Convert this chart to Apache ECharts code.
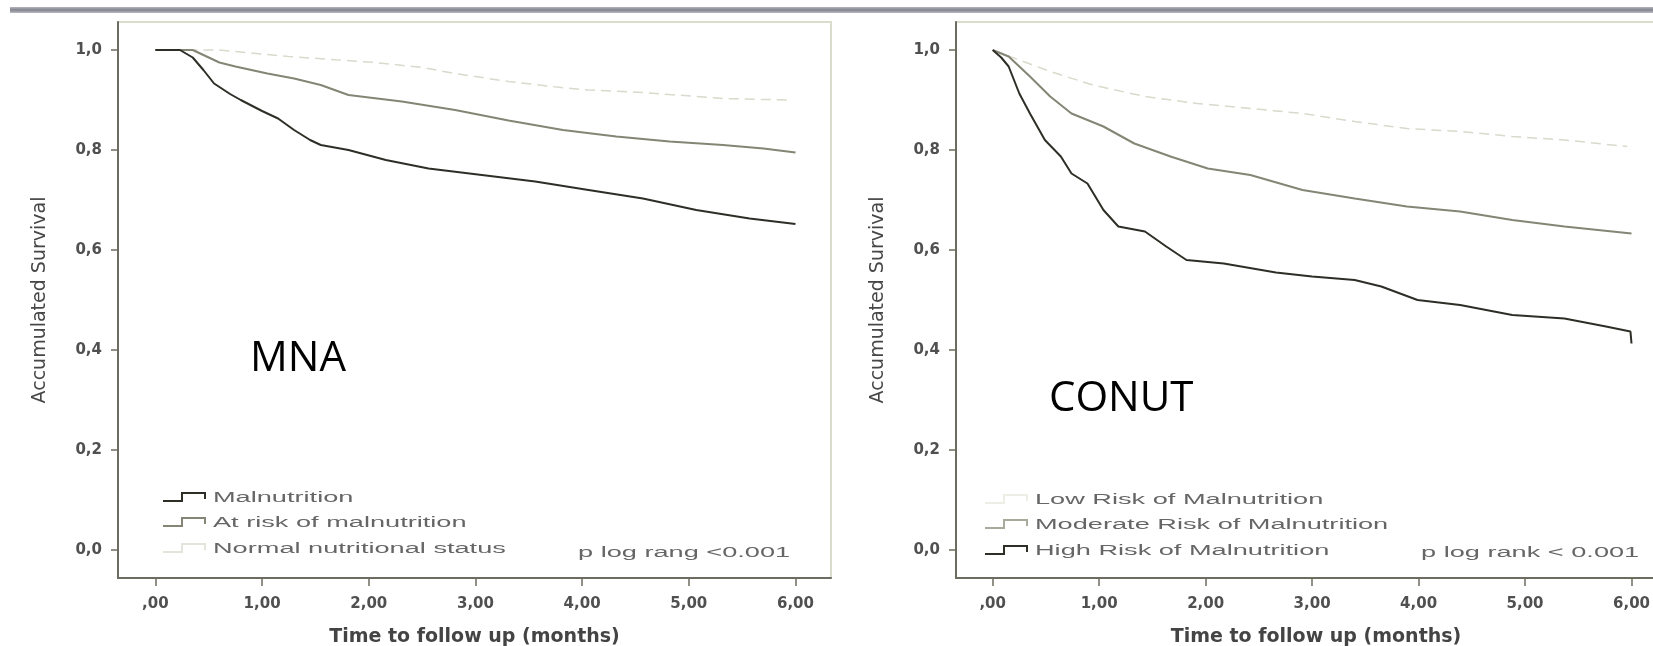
<!DOCTYPE html>
<html>
<head>
<meta charset="utf-8">
<script src="https://cdn.jsdelivr.net/npm/echarts@6/dist/echarts.min.js"></script>
<style>
  html, body { margin: 0; padding: 0; background: #ffffff; }
  #chart { width: 1653px; height: 646px; }
</style>
</head>
<body>
<div id="chart"></div>
<script>
// ---- Kaplan-Meier survival estimates (time in months, accumulated survival) ----

// MNA panel
const mnaGroups = ['Malnutrition', 'At risk of malnutrition', 'Normal nutritional status'];
const mnaMalnutritionTime = [0, 0.23, 0.35, 0.45, 0.55, 0.70, 0.80, 1.00, 1.15, 1.30, 1.45, 1.55, 1.81, 2.16, 2.56, 3.06, 3.56, 4.06, 4.57, 5.07, 5.57, 6.00];
const mnaMalnutritionSurv = [1.000, 1.000, 0.985, 0.960, 0.933, 0.912, 0.900, 0.878, 0.863, 0.840, 0.820, 0.810, 0.800, 0.780, 0.763, 0.750, 0.737, 0.720, 0.703, 0.680, 0.663, 0.652];
const mnaAtRiskTime = [0, 0.35, 0.50, 0.60, 0.75, 1.05, 1.30, 1.55, 1.81, 2.31, 2.81, 3.31, 3.82, 4.32, 4.82, 5.32, 5.70, 6.00];
const mnaAtRiskSurv = [1.000, 1.000, 0.985, 0.975, 0.967, 0.953, 0.943, 0.930, 0.910, 0.897, 0.880, 0.859, 0.840, 0.827, 0.817, 0.810, 0.803, 0.795];
const mnaNormalTime = [0, 0.60, 1.25, 2.06, 2.50, 2.81, 3.31, 3.80, 4.06, 4.57, 5.32, 5.92];
const mnaNormalSurv = [1.000, 1.000, 0.987, 0.975, 0.965, 0.953, 0.937, 0.925, 0.920, 0.915, 0.903, 0.900];
const mnaPValue = 'p log rang <0.001';

// CONUT panel
const conutGroups = ['Low Risk of Malnutrition', 'Moderate Risk of Malnutrition', 'High Risk of Malnutrition'];
const conutLowTime = [0, 0.25, 0.54, 0.94, 1.43, 1.92, 2.42, 2.91, 3.40, 3.89, 4.39, 4.88, 5.37, 5.96];
const conutLowSurv = [1.000, 0.980, 0.957, 0.930, 0.907, 0.893, 0.883, 0.873, 0.857, 0.843, 0.837, 0.827, 0.820, 0.807];
const conutModerateTime = [0, 0.15, 0.35, 0.54, 0.74, 1.04, 1.33, 1.67, 2.02, 2.42, 2.91, 3.40, 3.89, 4.39, 4.88, 5.37, 6.00];
const conutModerateSurv = [1.000, 0.987, 0.947, 0.907, 0.873, 0.847, 0.813, 0.787, 0.763, 0.750, 0.720, 0.703, 0.687, 0.677, 0.660, 0.647, 0.633];
const conutHighTime = [0, 0.08, 0.15, 0.25, 0.35, 0.49, 0.64, 0.74, 0.89, 1.04, 1.18, 1.43, 1.63, 1.82, 2.17, 2.66, 3.00, 3.40, 3.65, 3.99, 4.39, 4.88, 5.37, 5.76, 5.99, 6.00];
const conutHighSurv = [1.000, 0.985, 0.967, 0.913, 0.873, 0.820, 0.787, 0.753, 0.733, 0.680, 0.647, 0.637, 0.607, 0.580, 0.573, 0.555, 0.547, 0.540, 0.527, 0.500, 0.490, 0.470, 0.463, 0.447, 0.437, 0.413];
const conutPValue = 'p log rank < 0.001';

// Panel labels and axis text
const panelLabels = ['MNA', 'CONUT'];
const xTickValues = [0, 1, 2, 3, 4, 5, 6];
const xTickLabels = [',00', '1,00', '2,00', '3,00', '4,00', '5,00', '6,00'];
const yTickValues = [0, 0.2, 0.4, 0.6, 0.8, 1.0];
const yTickLabels = ['0,0', '0,2', '0,4', '0,6', '0,8', '1,0'];
const xTitle = 'Time to follow up (months)';
const yTitle = 'Accumulated Survival';

// ---- styling ----
const DARK = '#2e2e27';
const MID = '#858575';
const LIGHT = '#d9d9cc';
const AXIS = '#6c6c60';
const LABEL = '#505050';
const TEXT_STRETCH = 1.94;

const zip = (t, s) => t.map((v, i) => [v, s[i]]);

function xAxisFor(gridIndex, min, max) {
  return {
    type: 'value', gridIndex, min, max,
    name: xTitle, nameLocation: 'middle', nameGap: 50,
    nameTextStyle: { fontFamily: 'DejaVu Sans', fontWeight: 'bold', fontSize: 19, color: '#444444' },
    axisLine: { show: true, onZero: false, lineStyle: { color: AXIS, width: 2 } },
    axisTick: { show: true, customValues: xTickValues, length: 8, lineStyle: { color: AXIS, width: 1.5 } },
    axisLabel: {
      customValues: xTickValues, margin: 19,
      fontFamily: 'DejaVu Sans', fontWeight: 'bold', fontSize: 15, color: LABEL,
      formatter: v => xTickLabels[xTickValues.indexOf(Math.round(v))]
    },
    splitLine: { show: false }
  };
}

function yAxisFor(gridIndex) {
  return {
    type: 'value', gridIndex, min: -0.056, max: 1.056,
    name: yTitle, nameLocation: 'middle', nameGap: 68, nameRotate: 90,
    nameTextStyle: { fontFamily: 'DejaVu Sans', fontSize: 19, color: '#474747' },
    axisLine: { show: true, onZero: false, lineStyle: { color: AXIS, width: 2 } },
    axisTick: { show: true, customValues: yTickValues, length: 7, lineStyle: { color: AXIS, width: 1.5 } },
    axisLabel: {
      customValues: yTickValues, margin: 16,
      fontFamily: 'DejaVu Sans', fontWeight: 'bold', fontSize: 15, color: LABEL,
      formatter: v => yTickLabels[yTickValues.indexOf(Math.round(v * 10) / 10)]
    },
    splitLine: { show: false }
  };
}

function curve(name, gi, data, color, width, dashed) {
  return {
    type: 'line', name, xAxisIndex: gi, yAxisIndex: gi,
    data, showSymbol: false, symbol: 'none', smooth: false,
    lineStyle: { color, width, type: dashed ? [10, 6] : 'solid' },
    z: dashed ? 2 : 3
  };
}

// legend entry: KM step glyph + stretched label
function legendRow(x0, y, label, color) {
  return [
    {
      type: 'polyline',
      shape: { points: [[x0, y + 3], [x0 + 19, y + 3], [x0 + 19, y - 5], [x0 + 42, y - 5], [x0 + 42, y + 1]] },
      style: { stroke: color, lineWidth: 2, fill: null }
    },
    {
      type: 'text', x: x0 + 50, y: y, scaleX: TEXT_STRETCH,
      style: { text: label, font: '14px "Liberation Sans", Arial, sans-serif', fill: '#666666', align: 'left', verticalAlign: 'middle' }
    }
  ];
}

const chart = echarts.init(document.getElementById('chart'), null, { renderer: 'canvas' });

const option = {
  animation: false,
  backgroundColor: '#ffffff',
  grid: [
    { left: 118, top: 22, width: 713, height: 556, outerBoundsMode: 'none', show: true, borderColor: '#dcdccd', borderWidth: 2, backgroundColor: '#ffffff' },
    { left: 956, top: 22, width: 720, height: 556, outerBoundsMode: 'none', show: true, borderColor: '#dcdccd', borderWidth: 2, backgroundColor: '#ffffff' }
  ],
  xAxis: [ xAxisFor(0, -0.3506, 6.3329), xAxisFor(1, -0.3447, 6.4178) ],
  yAxis: [ yAxisFor(0), yAxisFor(1) ],
  series: [
    curve(mnaGroups[2], 0, zip(mnaNormalTime, mnaNormalSurv), LIGHT, 1.5, true),
    curve(mnaGroups[1], 0, zip(mnaAtRiskTime, mnaAtRiskSurv), MID, 2, false),
    curve(mnaGroups[0], 0, zip(mnaMalnutritionTime, mnaMalnutritionSurv), DARK, 2, false),
    curve(conutGroups[0], 1, zip(conutLowTime, conutLowSurv), LIGHT, 1.5, true),
    curve(conutGroups[1], 1, zip(conutModerateTime, conutModerateSurv), MID, 2, false),
    curve(conutGroups[2], 1, zip(conutHighTime, conutHighSurv), DARK, 2, false)
  ],
  graphic: [
    // header rule across the top of the page
    {
      type: 'rect', shape: { x: 10, y: 7, width: 1643, height: 6 },
      style: {
        fill: {
          type: 'linear', x: 0, y: 0, x2: 0, y2: 1,
          colorStops: [
            { offset: 0, color: '#b4b4bc' },
            { offset: 0.5, color: '#83838e' },
            { offset: 1, color: '#bcbcc4' }
          ]
        }
      },
      silent: true
    },
    // MNA legend
    ...legendRow(163, 498, mnaGroups[0], DARK),
    ...legendRow(163, 523, mnaGroups[1], MID),
    ...legendRow(163, 549, mnaGroups[2], '#e4e4da'),
    {
      type: 'text', x: 578, y: 553, scaleX: TEXT_STRETCH,
      style: { text: mnaPValue, font: '14px "Liberation Sans", Arial, sans-serif', fill: '#666666', align: 'left', verticalAlign: 'middle' }
    },
    // CONUT legend
    ...legendRow(985, 500, conutGroups[0], '#eeeee6'),
    ...legendRow(985, 525, conutGroups[1], '#aaaa9c'),
    ...legendRow(985, 551, conutGroups[2], DARK),
    {
      type: 'text', x: 1421, y: 553, scaleX: TEXT_STRETCH,
      style: { text: conutPValue, font: '14px "Liberation Sans", Arial, sans-serif', fill: '#666666', align: 'left', verticalAlign: 'middle' }
    },
    // panel labels
    {
      type: 'text', x: 250, y: 338,
      style: { text: panelLabels[0], font: '42px "Open Sans", sans-serif', fill: '#000000', align: 'left', verticalAlign: 'top' }
    },
    {
      type: 'text', x: 1049, y: 378,
      style: { text: panelLabels[1], font: '42px "Open Sans", sans-serif', fill: '#000000', align: 'left', verticalAlign: 'top' }
    }
  ]
};

chart.setOption(option);
</script>
</body>
</html>
